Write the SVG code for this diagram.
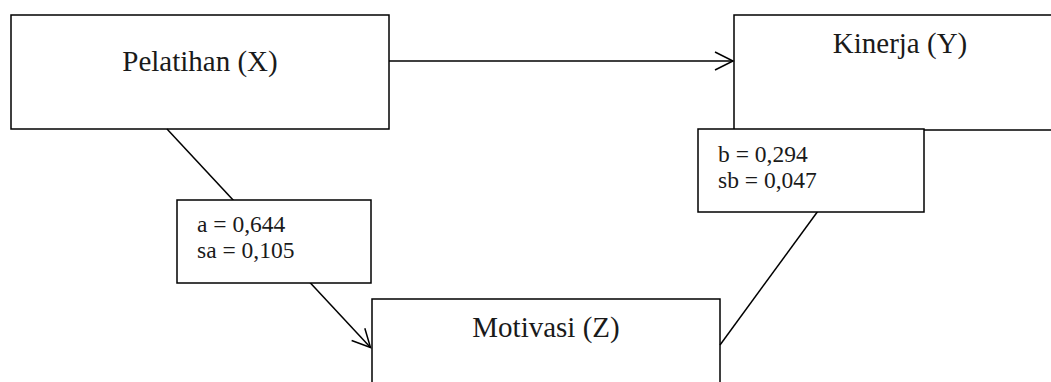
<svg xmlns="http://www.w3.org/2000/svg" width="1051" height="382" viewBox="0 0 1051 382">
<style>
.box{fill:#fff;stroke:#000;stroke-width:1.5}
.node{font-family:"Liberation Serif","Times New Roman",serif;font-size:29px;fill:#1a1a1a;text-anchor:middle}
.lbl{font-family:"Liberation Serif","Times New Roman",serif;font-size:23.5px;fill:#1a1a1a}
.edge{fill:none;stroke:#000;stroke-width:1.5}
</style>
<defs>
<marker id="arr" markerWidth="20" markerHeight="20" refX="18" refY="9" orient="auto" markerUnits="userSpaceOnUse" overflow="visible">
<path d="M0,0 L18,9 L0,18" fill="none" stroke="#000" stroke-width="1.5"/>
</marker>
</defs>
<g id="node-x">
<rect class="box" x="11" y="15" width="378" height="114"/>
<text class="node" x="200" y="71">Pelatihan (X)</text>
</g>
<g id="node-y">
<rect class="box" x="734" y="15" width="330" height="115"/>
<text class="node" x="900" y="53">Kinerja (Y)</text>
</g>
<g id="node-z">
<rect class="box" x="372" y="299" width="348" height="100"/>
<text class="node" x="546" y="337">Motivasi (Z)</text>
</g>
<g id="connectors">
<line class="edge" x1="389" y1="61" x2="733" y2="61" marker-end="url(#arr)"/>
<line class="edge" x1="167" y1="129" x2="370.5" y2="347.5" marker-end="url(#arr)"/>
<line class="edge" x1="720" y1="345" x2="818" y2="211"/>
</g>
<g id="label-a">
<rect class="box" x="177" y="200" width="194" height="83"/>
<text class="lbl" x="197" y="232">a = 0,644</text>
<text class="lbl" x="197" y="258">sa = 0,105</text>
</g>
<g id="label-b">
<rect class="box" x="698" y="129" width="226" height="83"/>
<text class="lbl" x="718" y="162">b = 0,294</text>
<text class="lbl" x="718" y="188">sb = 0,047</text>
</g>
</svg>
